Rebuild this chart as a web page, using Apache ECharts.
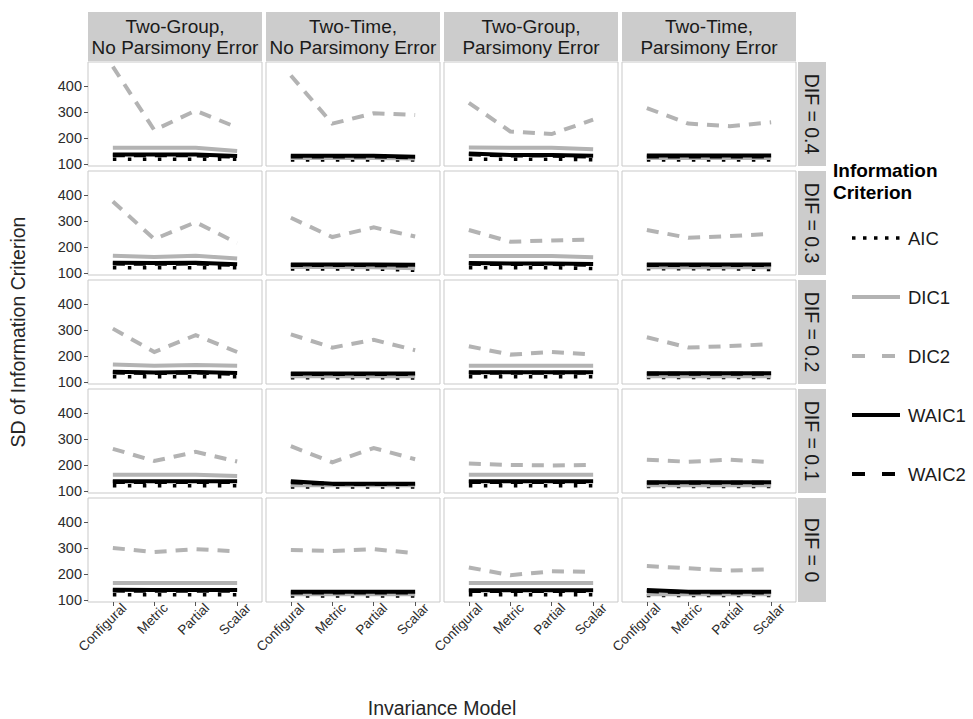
<!DOCTYPE html>
<html>
<head>
<meta charset="utf-8">
<script src="https://cdn.jsdelivr.net/npm/echarts@6/dist/echarts.min.js"></script>
<style>
html,body{margin:0;padding:0;background:#fff;}
#chart{width:973px;height:719px;}
</style>
</head>
<body>
<div id="chart"></div>
<script>
// ---------- data ----------
const categories = ['Configural', 'Metric', 'Partial', 'Scalar'];
const columnLabels = ['Two-Group,\nNo Parsimony Error', 'Two-Time,\nNo Parsimony Error', 'Two-Group,\nParsimony Error', 'Two-Time,\nParsimony Error'];
const rowLabels = ['DIF = 0.4', 'DIF = 0.3', 'DIF = 0.2', 'DIF = 0.1', 'DIF = 0'];
const criteria = ['AIC', 'DIC1', 'DIC2', 'WAIC1', 'WAIC2'];
const yTicks = [100, 200, 300, 400];

// values[row][column][model]
const AIC = [
  [[118,118,118,118],[115,115,115,115],[118,118,118,116],[115,115,115,115]],
  [[120,120,120,120],[115,115,115,110],[120,120,120,117],[116,116,116,113]],
  [[120,120,120,120],[116,116,116,115],[120,120,120,120],[117,117,117,117]],
  [[120,120,120,120],[115,115,115,115],[120,120,120,120],[117,117,117,117]],
  [[120,120,120,120],[115,115,115,115],[120,120,120,120],[117,117,117,117]]
];
const DIC1 = [
  [[162,162,162,150],[123,123,123,121],[163,162,162,156],[123,123,123,123]],
  [[166,161,166,155],[123,123,122,118],[165,165,165,160],[122,122,122,122]],
  [[167,162,165,162],[122,122,122,122],[162,162,162,162],[122,122,122,122]],
  [[162,162,162,157],[122,122,122,122],[162,162,162,162],[122,122,122,122]],
  [[165,165,165,165],[122,122,122,122],[165,165,165,165],[122,122,122,122]]
];
const DIC2 = [
  [[474,230,305,240],[440,255,295,288],[335,225,215,270],[315,255,245,260]],
  [[375,230,295,215],[312,238,275,240],[265,220,225,228],[265,235,242,250]],
  [[305,215,280,215],[283,232,262,222],[237,205,215,205],[272,232,238,245]],
  [[262,215,250,213],[272,210,265,222],[205,200,198,200],[220,212,220,210]],
  [[300,284,295,287],[292,288,295,280],[225,195,210,208],[230,222,213,218]]
];
const WAIC1 = [
  [[136,136,136,130],[131,131,131,128],[140,134,134,131],[132,132,132,132]],
  [[139,138,139,133],[132,132,132,131],[138,136,136,134],[132,132,132,132]],
  [[139,136,138,134],[132,132,132,132],[137,137,137,137],[133,133,133,133]],
  [[137,137,137,137],[137,128,128,128],[137,137,137,137],[133,133,133,133]],
  [[139,138,138,138],[131,131,131,131],[137,137,137,137],[138,131,131,131]]
];
const WAIC2 = [
  [[133,133,133,127],[129,129,129,125],[137,132,132,128],[129,129,129,129]],
  [[136,135,136,130],[130,130,130,128],[135,134,134,131],[130,130,130,130]],
  [[136,134,136,131],[130,130,130,130],[135,135,135,135],[131,131,131,131]],
  [[134,134,134,134],[133,127,127,127],[134,134,134,134],[131,131,131,131]],
  [[136,135,135,135],[129,129,129,129],[134,134,134,134],[134,129,129,129]]
];

// ---------- layout / styles ----------
const seriesValues = { AIC: AIC, DIC1: DIC1, DIC2: DIC2, WAIC1: WAIC1, WAIC2: WAIC2 };
const GREY = '#b3b3b3';
const styles = {
  AIC:   { color: '#000', width: 3.5, type: [3.5, 11.5] },
  DIC1:  { color: GREY,   width: 4,   type: 'solid' },
  DIC2:  { color: GREY,   width: 4,   type: [12, 9] },
  WAIC1: { color: '#000', width: 4,   type: 'solid' },
  WAIC2: { color: '#000', width: 4,   type: [12, 9] }
};
const legendDash = {
  AIC: [3.5, 7.5], DIC1: null, DIC2: [13, 17], WAIC1: null, WAIC2: [13, 17]
};
const FONT = '"Liberation Sans", Arial, sans-serif';
const panelLeft0 = 88, panelTop0 = 62, panelW = 174, panelH = 104, stepX = 178, stepY = 109;
const nRows = rowLabels.length, nCols = columnLabels.length;

const grids = [], xAxes = [], yAxes = [], series = [], graphics = [];

for (let r = 0; r < nRows; r++) {
  for (let c = 0; c < nCols; c++) {
    const idx = r * nCols + c;
    const left = panelLeft0 + c * stepX, top = panelTop0 + r * stepY;
    grids.push({ left: left, top: top, width: panelW, height: panelH, show: true,
      borderColor: '#c9c9c9', borderWidth: 1, backgroundColor: '#ffffff', containLabel: false });
    const bottomRow = r === nRows - 1;
    const leftCol = c === 0;
    xAxes.push({
      type: 'value', gridIndex: idx, min: 0.4, max: 4.6,
      axisLine: { show: false }, splitLine: { show: false },
      axisTick: { show: bottomRow, length: 4, customValues: [1, 2, 3, 4], lineStyle: { color: '#555' } },
      axisLabel: { show: bottomRow, customValues: [1, 2, 3, 4], rotate: 45, margin: 5, hideOverlap: false,
        align: 'right', verticalAlign: 'top', padding: [0, -9, 0, 0],
        formatter: function (v) { return categories[Math.round(v) - 1] || ''; },
        fontFamily: FONT, fontSize: 13.5, color: '#2b2b2b' }
    });
    yAxes.push({
      type: 'value', gridIndex: idx, min: 92, max: 492,
      axisLine: { show: false }, splitLine: { show: false },
      axisTick: { show: leftCol, length: 4, customValues: yTicks, lineStyle: { color: '#555' } },
      axisLabel: { show: leftCol, customValues: yTicks, margin: 6, fontFamily: FONT, fontSize: 14.5, color: '#2b2b2b' }
    });
    criteria.forEach(function (name, k) {
      const vals = seriesValues[name][r][c];
      const st = styles[name];
      series.push({
        type: 'line', name: name, xAxisIndex: idx, yAxisIndex: idx,
        data: vals.map(function (v, j) { return [j + 1, v]; }),
        symbol: 'none', showSymbol: false, silent: true, animation: false, z: 2 + k,
        lineStyle: { color: st.color, width: st.width, type: st.type, cap: 'butt', join: 'miter' }
      });
    });
  }
}

// top strips
columnLabels.forEach(function (lab, c) {
  const left = panelLeft0 + c * stepX;
  graphics.push({ type: 'rect', shape: { x: left, y: 12, width: panelW, height: 49 }, style: { fill: '#cccccc' }, silent: true });
  graphics.push({ type: 'text', x: left + panelW / 2, y: 37, silent: true,
    style: { text: lab, font: '19px ' + FONT, fill: '#1a1a1a', lineHeight: 21,
      align: 'center', verticalAlign: 'middle', textAlign: 'center', textVerticalAlign: 'middle' } });
});
// right strips
rowLabels.forEach(function (lab, r) {
  const top = panelTop0 + r * stepY;
  const sx = panelLeft0 + (nCols - 1) * stepX + panelW + 2;
  graphics.push({ type: 'rect', shape: { x: sx, y: top, width: 28, height: panelH }, style: { fill: '#cccccc' }, silent: true });
  graphics.push({ type: 'text', x: sx + 14, y: top + panelH / 2, rotation: -Math.PI / 2, silent: true,
    style: { text: lab, font: '19.5px ' + FONT, fill: '#1a1a1a',
      align: 'center', verticalAlign: 'middle', textAlign: 'center', textVerticalAlign: 'middle' } });
});
// axis titles
graphics.push({ type: 'text', x: 18, y: 332, rotation: Math.PI / 2, silent: true,
  style: { text: 'SD of Information Criterion', font: '19.5px ' + FONT, fill: '#262626',
    align: 'center', verticalAlign: 'middle', textAlign: 'center', textVerticalAlign: 'middle' } });
graphics.push({ type: 'text', x: 442, y: 708, silent: true,
  style: { text: 'Invariance Model', font: '19.5px ' + FONT, fill: '#262626',
    align: 'center', verticalAlign: 'middle', textAlign: 'center', textVerticalAlign: 'middle' } });
// legend
graphics.push({ type: 'text', x: 833, y: 181, silent: true,
  style: { text: 'Information\nCriterion', font: 'bold 19px ' + FONT, fill: '#000', lineHeight: 22,
    align: 'left', verticalAlign: 'middle', textAlign: 'left', textVerticalAlign: 'middle' } });
const legendY = [238, 297, 356, 415, 474];
criteria.forEach(function (name, k) {
  const st = styles[name];
  const y = legendY[k];
  graphics.push({ type: 'line', silent: true, shape: { x1: 852, y1: y, x2: 900, y2: y },
    style: { stroke: st.color, lineWidth: st.width, lineDash: legendDash[name], lineCap: 'butt' } });
  graphics.push({ type: 'text', x: 908, y: y, silent: true,
    style: { text: name, font: '18.5px ' + FONT, fill: '#1a1a1a',
      align: 'left', verticalAlign: 'middle', textAlign: 'left', textVerticalAlign: 'middle' } });
});

const chart = echarts.init(document.getElementById('chart'), null, { renderer: 'svg', width: 973, height: 719 });
chart.setOption({
  animation: false,
  backgroundColor: '#ffffff',
  grid: grids, xAxis: xAxes, yAxis: yAxes, series: series,
  graphic: { elements: graphics }
});
</script>
</body>
</html>
